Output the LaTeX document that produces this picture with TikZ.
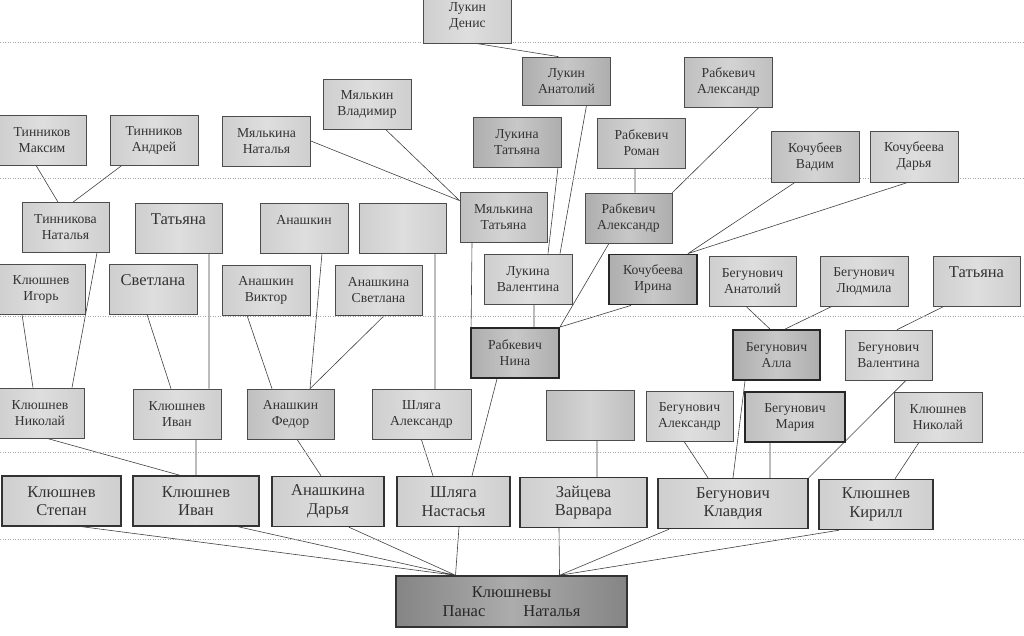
\documentclass[tikz,border=0pt]{standalone}
\usepackage{fontspec}
\setmainfont{Liberation Serif}
\usetikzlibrary{backgrounds}
\definecolor{paleg}{gray}{0.81}
\definecolor{midg}{gray}{0.75}
\definecolor{darkg}{gray}{0.68}
\definecolor{rootg}{gray}{0.52}
\tikzset{
  tone/.style={left color=#1, right color=#1, middle color=#1!68!white},
  person/.style={draw=black!70, line width=0.7pt, tone=paleg, text=black!80,
    minimum width=88pt, minimum height=50pt, inner sep=1pt, align=center,
    font=\fontsize{13.7}{16}\selectfont},
  shaded/.style={tone=midg},
  darker/.style={tone=darkg},
  marked/.style={line width=1.8pt, draw=black!85},
  big/.style={font=\fontsize{16.5}{18.5}\selectfont},
  child/.style={person, big, line width=1.4pt, draw=black!80},
  link/.style={black!75, line width=0.6pt},
  guide/.style={gray!70, dotted, line width=0.5pt}
}

\begin{document}
\begin{tikzpicture}[x=1pt,y=-1pt]
        \useasboundingbox (0,0) rectangle (1024,635);
        % guide lines
        \foreach \gy in {42,178,316,452,539}
            \draw[guide] (0,\gy) -- (1024,\gy);
        % great-grandparents
        \node[person] (denis) at (467.5,16.5) [minimum height=53pt] {Лукин\\Денис};
        \node[person,darker] (anatoly) at (566.5,81) [minimum height=48pt] {Лукин\\Анатолий};
        \node[person,shaded] (rabtop) at (728.5,82) {Рабкевич\\Александр};
        \node[person] (vladimir) at (367,104.5) {Мялькин\\Владимир};
        \node[person] (maxim) at (42,140) {Тинников\\Максим};
        \node[person] (andrey) at (154,140) {Тинников\\Андрей};
        \node[person] (malnat) at (266.5,141) {Мялькина\\Наталья};
        \node[person,darker] (luktat) at (517,142) {Лукина\\Татьяна};
        \node[person,shaded] (roman) at (641.5,143) {Рабкевич\\Роман};
        \node[person,shaded] (vadim) at (815,156.5) [minimum height=51pt] {Кочубеев\\Вадим};
        \node[person] (kodarya) at (914,156.5) [minimum height=51pt] {Кочубеева\\Дарья};
        % grandparents
        \node[person] (tinnat) at (65.5,227.5) [minimum width=87pt] {Тинникова\\Наталья};
        \node[person,big] (tatleft) at (178.5,228) [minimum width=87pt] {Татьяна\\\mbox{}};
        \node[person] (anash) at (304,228) {Анашкин\\\mbox{}};
        \node[person] (blankup) at (402.5,228) [minimum width=87pt] {};
        \node[person,shaded] (maltat) at (503.5,217) [minimum width=87pt] {Мялькина\\Татьяна};
        \node[person,darker] (rabmid) at (628.5,218) [minimum width=87pt] {Рабкевич\\Александр};
        \node[person] (igor) at (41,289) {Клюшнев\\Игорь};
        \node[person,big] (svetlana) at (153,289) {Светлана\\\mbox{}};
        \node[person] (viktor) at (266,290) {Анашкин\\Виктор};
        \node[person] (anasvet) at (378.5,290.5) [minimum width=87pt] {Анашкина\\Светлана};
        \node[person] (lukval) at (528,279) {Лукина\\Валентина};
        \node[person,darker,marked] (irina) at (653,279.5) {Кочубеева\\Ирина};
        \node[person] (beganat) at (752.5,281) [minimum width=87pt] {Бегунович\\Анатолий};
        \node[person] (lyudmila) at (864,281) {Бегунович\\Людмила};
        \node[person,big] (tatright) at (976.5,281) [minimum width=87pt] {Татьяна\\\mbox{}};
        \node[person,darker,marked] (nina) at (515,353) {Рабкевич\\Нина};
        \node[person,darker,marked] (alla) at (776.5,355) [minimum width=87pt] {Бегунович\\Алла};
        \node[person] (begval) at (888.5,355) [minimum width=87pt] {Бегунович\\Валентина};
        % parents
        \node[person] (nikleft) at (40,413) {Клюшнев\\Николай};
        \node[person] (ivanup) at (177,414) {Клюшнев\\Иван};
        \node[person,shaded] (fedor) at (290.5,414) [minimum width=87pt] {Анашкин\\Федор};
        \node[person] (shlalex) at (421.5,414.5) [minimum width=99pt] {Шляга\\Александр};
        \node[person,shaded] (blanklow) at (590,415.5) {};
        \node[person] (begalex) at (689.5,416) [minimum width=87pt] {Бегунович\\Александр};
        \node[person,shaded,marked] (maria) at (795,417) [minimum width=100pt] {Бегунович\\Мария};
        \node[person] (nikright) at (938,417) {Клюшнев\\Николай};
        % children
        \node[child] (stepan) at (61.5,501) [minimum width=119pt] {Клюшнев\\Степан};
        \node[child] (ivan) at (196,501) [minimum width=126pt] {Клюшнев\\Иван};
        \node[child] (darya) at (328,501.5) [minimum width=112pt] {Анашкина\\Дарья};
        \node[child] (nastasya) at (453.5,501.5) [minimum width=113pt] {Шляга\\Настасья};
        \node[child] (varvara) at (583.5,502.5) [minimum width=127pt] {Зайцева\\Варвара};
        \node[child] (klavdiya) at (733,503.5) [minimum width=150pt] {Бегунович\\Клавдия};
        \node[child] (kirill) at (876,504.5) [minimum width=114pt] {Клюшнев\\Кирилл};
        \node[child,tone=rootg,text=black!85] (root) at (511.5,601.5) [minimum width=231pt,minimum height=51pt]
              {Клюшневы\\Панас\hspace{38pt}Наталья};
        \coordinate (panas) at ([xshift=-56pt]root.north);
        \coordinate (natalya) at ([xshift=48pt]root.north);
        % links
        \begin{scope}[on background layer]
        \draw[link] ([xshift=8pt]denis.south) -- ([xshift=-8pt]anatoly.north)
              ([xshift=20pt]anatoly.south) -- ([xshift=32pt]lukval.north)
              ([xshift=41pt]luktat.south) -- ([xshift=20pt]lukval.north)
              ([xshift=6pt]lukval.south) -- ([xshift=19pt]nina.north)
              ([xshift=-19.5pt]rabmid.south) -- (nina.north east)
              ([xshift=-22pt]irina.south) -- (nina.north east)
              ([xshift=-31.5pt]maltat.south) -- ([xshift=1pt]nina.north west)
              (malnat.east) -- ([yshift=-9pt]maltat.north west)
              ([xshift=19pt]vladimir.south) -- ([yshift=-9pt]maltat.north west)
              ([xshift=-6.5pt]roman.south) -- ([xshift=6.5pt]rabmid.north)
              ([xshift=30.5pt]rabtop.south) -- (rabmid.north east)
              ([xshift=-20pt]vadim.south) -- ([xshift=-10pt]irina.north east)
              ([xshift=-6pt]kodarya.south) -- ([xshift=-10pt]irina.north east)
              ([xshift=-6pt]maxim.south) -- ([xshift=-7.5pt]tinnat.north)
              ([xshift=-32pt]andrey.south) -- ([xshift=7.5pt]tinnat.north)
              ([xshift=31.5pt]tinnat.south) -- ([xshift=32pt]nikleft.north)
              ([xshift=-19pt]igor.south) -- ([xshift=-7pt]nikleft.north)
              ([xshift=-6pt]svetlana.south) -- ([xshift=-6pt]ivanup.north)
              ([xshift=30.5pt]tatleft.south) -- ([xshift=32pt]ivanup.north)
              ([xshift=-19pt]viktor.south) -- ([xshift=-18.5pt]fedor.north)
              ([xshift=18pt]anash.south) -- ([xshift=19.5pt]fedor.north)
              ([xshift=5.5pt]anasvet.south) -- ([xshift=19.5pt]fedor.north)
              ([xshift=32.5pt]blankup.south) -- ([xshift=13.5pt]shlalex.north)
              ([xshift=-18pt]nina.south) -- ([xshift=18.5pt]nastasya.north)
              (shlalex.south) -- ([xshift=-20.5pt]nastasya.north)
              ([xshift=7pt]nikleft.south) -- ([xshift=-16pt]ivan.north)
              ([xshift=19pt]ivanup.south) -- (ivan.north)
              ([xshift=6.5pt]fedor.south) -- ([xshift=-7pt]darya.north)
              ([xshift=7pt]blanklow.south) -- ([xshift=13.5pt]varvara.north)
              ([xshift=-5.5pt]begalex.south) -- ([xshift=-25pt]klavdiya.north)
              ([xshift=-31.5pt]alla.south) -- (klavdiya.north)
              ([xshift=-25pt]maria.south) -- ([xshift=37pt]klavdiya.north)
              ([xshift=17.5pt]begval.south) -- (klavdiya.north east)
              ([xshift=-6.5pt]beganat.south) -- ([xshift=-6.5pt]alla.north)
              ([xshift=-32pt]lyudmila.south) -- ([xshift=8.5pt]alla.north)
              ([xshift=-32.5pt]tatright.south) -- ([xshift=8.5pt]begval.north)
              ([xshift=-19pt]nikright.south) -- ([xshift=19pt]kirill.north)
              ([xshift=20.5pt]stepan.south) -- (panas)
              ([xshift=42pt]ivan.south) -- (panas)
              ([xshift=21pt]darya.south) -- (panas)
              ([xshift=5.5pt]nastasya.south) -- (panas)
              ([xshift=-24.5pt]varvara.south) -- (natalya)
              ([xshift=-64pt]klavdiya.south) -- (natalya)
              ([xshift=-37pt]kirill.south) -- (natalya);
        \end{scope}
\end{tikzpicture}
\end{document}
